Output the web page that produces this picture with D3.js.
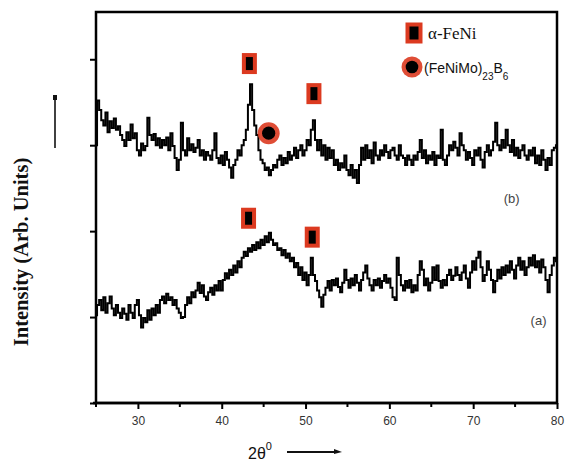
<!DOCTYPE html>
<html>
<head>
<meta charset="utf-8">
<script src="https://cdn.jsdelivr.net/npm/d3@7"></script>
<style>
  body { margin: 0; background: #fff; }
  svg { display: block; }
</style>
</head>
<body>
<svg id="chart" width="567" height="462"></svg>
<script>
// 2θ range of the scans and axis ticks
const thetaStart = 25;
const thetaEnd = 80;
const xTicks = [30, 40, 50, 60, 70, 80];
const xMinorTicks = [25, 35, 45, 55, 65, 75];
const yTicks = [0, 100, 200, 300, 400];
const intensityMax = 455;

// Pattern (b): intensity (arb. units), one reading every 0.25° from 25° to 80°
const patternB = [
  300,352,341,329, 323,338,315,328, 320,331,318,322, 312,306,299,315,
  306,324,308,314, 294,288,302,294, 299,332,312,306, 313,300,308,297,
  306,300,309,294, 314,299,285,271, 283,326,294,288, 308,294,301,292,
  297,306,288,294, 283,292,288,283, 294,314,285,279, 288,277,292,283,
  274,262,277,283, 294,288,300,306, 318,347,371,341, 323,312,294,283,
  279,271,274,265, 271,277,274,283, 288,277,285,279, 292,283,288,297,
  285,294,300,288, 294,306,300,318, 329,306,294,306, 288,300,283,297,
  285,294,277,283, 271,279,274,288, 271,265,277,262, 271,256,277,297,
  283,300,285,294, 279,303,288,283, 294,288,300,292, 285,294,297,288,
  283,300,288,285, 277,288,283,277, 288,283,292,306, 285,294,279,288,
  283,292,277,288, 285,318,283,277, 288,300,294,304, 297,288,314,300,
  294,283,292,285, 277,294,288,297, 283,274,292,300, 288,294,304,326,
  300,294,306,297, 318,300,292,306, 288,297,285,294, 300,288,283,294,
  288,297,279,288, 277,294,283,271, 285,277,294,297, 300
];

// Pattern (a): intensity (arb. units), same 2θ grid
const patternA = [
  102,114,120,108, 123,105,116,124, 110,102,114,105, 99,110,104,97,
  114,105,99,114, 120,102,88,99, 94,108,97,110, 102,114,105,120,
  124,116,127,120, 123,114,120,110, 105,99,100,114, 123,116,129,123,
  131,140,128,137, 124,120,129,134, 126,137,131,142, 131,143,151,145,
  155,149,160,152, 165,158,169,176, 171,180,176,184, 178,187,180,190,
  184,194,187,198, 190,184,186,178, 180,172,178,169, 174,165,169,158,
  163,149,158,143, 152,137,149,169, 149,142,131,123, 112,126,134,142,
  131,143,137,145, 135,129,140,155, 143,134,145,137, 149,140,131,143,
  152,160,145,137, 131,143,137,145, 134,142,149,140, 145,134,123,120,
  169,149,137,131, 142,134,143,129, 137,131,149,165, 155,137,145,131,
  140,158,143,160, 142,134,143,137, 149,155,143,148, 158,149,143,152,
  160,145,134,152, 165,155,169,176, 158,142,149,165, 155,143,129,142,
  155,145,158,149, 160,152,165,155, 145,160,169,155, 165,149,158,169,
  160,172,158,165, 152,167,158,143, 129,149,160,169, 165
];

// Phase markers [2θ, intensity]
const feNiMarksB = [[43.3, 395], [51.0, 360]];
const borideMarksB = [[45.6, 314]];
const feNiMarksA = [[43.2, 215], [50.8, 193]];

// Curve labels [text, 2θ, intensity]
const curveLabels = [["(b)", 74.6, 237], ["(a)", 77.8, 95]];

const legendItems = ["α-FeNi", "(FeNiMo)23B6"];

const svg = d3.select("#chart");
const margin = { left: 96, right: 10, top: 12, bottom: 59 };
const W = 567, H = 462;

const x = d3.scaleLinear().domain([thetaStart, thetaEnd]).range([margin.left, W - margin.right]);
const y = d3.scaleLinear().domain([0, intensityMax]).range([H - margin.bottom, margin.top]);

const RED = "#dc3a20";
const stepOf = arr => (thetaEnd - thetaStart) / (arr.length - 1);

// traces
const line = d3.line()
  .x(d => x(d[0]))
  .y(d => y(d[1]))
  .curve(d3.curveStep);

[patternA, patternB].forEach(arr => {
  const s = stepOf(arr);
  const pts = arr.map((v, i) => [thetaStart + i * s, v]);
  svg.append("path")
    .datum(pts)
    .attr("fill", "none")
    .attr("stroke", "#000")
    .attr("stroke-width", 2)
    .attr("stroke-linejoin", "miter")
    .attr("d", line);
});

// frame
svg.append("rect")
  .attr("x", x(thetaStart)).attr("y", y(intensityMax))
  .attr("width", x(thetaEnd) - x(thetaStart))
  .attr("height", y(0) - y(intensityMax))
  .attr("fill", "none").attr("stroke", "#000").attr("stroke-width", 2.5);

// x axis
const xAxis = svg.append("g").attr("transform", `translate(0,${y(0)})`)
  .call(d3.axisBottom(x).tickValues(xTicks).tickSize(6).tickFormat(d3.format("d")));
xAxis.select(".domain").attr("stroke-width", 2.5).attr("d", `M${x(thetaStart) - 3},0H${x(thetaEnd)}`);
xAxis.selectAll(".tick line").attr("stroke-width", 2);
xAxis.selectAll(".tick text")
  .attr("font-family", "Liberation Sans, Arial, sans-serif")
  .attr("font-size", 12).attr("fill", "#333").attr("dy", "1.05em");
svg.append("g").attr("transform", `translate(0,${y(0)})`)
  .selectAll("line").data(xMinorTicks).join("line")
  .attr("x1", d => x(d)).attr("x2", d => x(d))
  .attr("y1", 0).attr("y2", 4)
  .attr("stroke", "#000").attr("stroke-width", 2);

// y axis (unlabelled ticks)
const yAxis = svg.append("g").attr("transform", `translate(${x(thetaStart)},0)`)
  .call(d3.axisLeft(y).tickValues(yTicks).tickSize(6).tickFormat(""));
yAxis.select(".domain").remove();
yAxis.selectAll(".tick line").attr("stroke-width", 2);

// phase markers
function squareMark(g, cx, cy, w, h) {
  g.append("rect").attr("x", cx - w / 2).attr("y", cy - h / 2)
    .attr("width", w).attr("height", h).attr("fill", RED);
  g.append("rect").attr("x", cx - w / 2 + 4).attr("y", cy - h / 2 + 4)
    .attr("width", w - 8).attr("height", h - 8).attr("fill", "#000");
}
function circleMark(g, cx, cy, r) {
  g.append("circle").attr("cx", cx).attr("cy", cy).attr("r", r).attr("fill", RED).attr("opacity", 0.9);
  g.append("circle").attr("cx", cx).attr("cy", cy).attr("r", r * 0.6).attr("fill", "#000");
}
const marks = svg.append("g");
[...feNiMarksB, ...feNiMarksA].forEach(d => squareMark(marks, x(d[0]), y(d[1]), 15, 21));
borideMarksB.forEach(d => circleMark(marks, x(d[0]), y(d[1]), 11));

// curve labels
svg.append("g").selectAll("text").data(curveLabels).join("text")
  .attr("x", d => x(d[1])).attr("y", d => y(d[2]))
  .attr("text-anchor", "middle").attr("dominant-baseline", "middle")
  .attr("font-family", "Liberation Sans, Arial, sans-serif")
  .attr("font-size", 13).attr("fill", "#444")
  .text(d => d[0]);

// legend
const lg = svg.append("g");
squareMark(lg, 414, 33, 17, 21);
lg.append("text").attr("x", 428).attr("y", 39)
  .attr("font-family", "Liberation Serif, Times New Roman, serif")
  .attr("font-size", 17).attr("fill", "#111").text(legendItems[0]);
circleMark(lg, 412, 67, 10.5);
const lt = lg.append("text").attr("x", 424).attr("y", 73)
  .attr("font-family", "Liberation Sans, Arial, sans-serif")
  .attr("font-size", 14).attr("fill", "#111");
lt.append("tspan").text("(FeNiMo)");
lt.append("tspan").attr("font-size", 10).attr("dy", 7).text("23");
lt.append("tspan").attr("dy", -7).text("B");
lt.append("tspan").attr("font-size", 10).attr("dy", 7).text("6");

// y axis title with arrow
svg.append("text")
  .attr("transform", "translate(28,252) rotate(-90)")
  .attr("text-anchor", "middle")
  .attr("font-family", "Liberation Serif, Times New Roman, serif")
  .attr("font-weight", "bold").attr("font-size", 20.5).attr("fill", "#111")
  .text("Intensity (Arb. Units)");
svg.append("line").attr("x1", 55).attr("x2", 55).attr("y1", 148).attr("y2", 99)
  .attr("stroke", "#111").attr("stroke-width", 1.6);
svg.append("rect").attr("x", 53).attr("y", 95).attr("width", 4).attr("height", 5).attr("fill", "#111");

// x axis title with arrow
const xt = svg.append("text").attr("x", 248).attr("y", 459)
  .attr("font-family", "Liberation Sans, Arial, sans-serif")
  .attr("font-size", 16).attr("fill", "#111");
xt.append("tspan").text("2θ");
xt.append("tspan").attr("font-size", 11).attr("dy", -9).text("0");
svg.append("line").attr("x1", 287).attr("x2", 338).attr("y1", 452).attr("y2", 452)
  .attr("stroke", "#111").attr("stroke-width", 2);
svg.append("path").attr("d", "M334,449L342,452L334,454Z").attr("fill", "#111");
</script>
</body>
</html>
